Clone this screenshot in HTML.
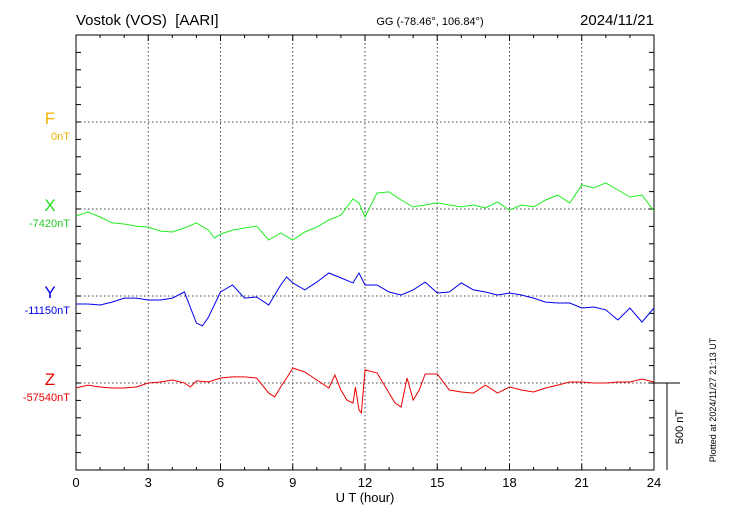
<!DOCTYPE html>
<html><head><meta charset="utf-8"><style>
body{margin:0;background:#fff;}
svg{display:block;font-family:"Liberation Sans",sans-serif;}
</style></head><body>
<svg id="chart" width="730" height="520" viewBox="0 0 730 520" xmlns="http://www.w3.org/2000/svg">
<text x="76" y="25" font-size="15" style="white-space:pre">Vostok (VOS)  [AARI]</text>
<text x="430" y="25" font-size="11" text-anchor="middle">GG (-78.46°, 106.84°)</text>
<text x="654" y="25" font-size="15" text-anchor="end">2024/11/21</text>
<text x="50" y="124" font-size="17" fill="#f0b400" text-anchor="middle">F</text>
<text x="70" y="140" font-size="11" fill="#f0b400" text-anchor="end">0nT</text>
<text x="50" y="211" font-size="17" fill="#22dd22" text-anchor="middle">X</text>
<text x="70" y="227" font-size="11" fill="#22cc22" text-anchor="end">-7420nT</text>
<text x="50" y="298" font-size="17" fill="#0000ee" text-anchor="middle">Y</text>
<text x="70" y="314" font-size="11" fill="#0000ee" text-anchor="end">-11150nT</text>
<text x="50" y="385" font-size="17" fill="#ee0000" text-anchor="middle">Z</text>
<text x="70" y="401" font-size="11" fill="#ee0000" text-anchor="end">-57540nT</text>
<text x="365" y="502" font-size="13" text-anchor="middle">U T (hour)</text>
<text transform="translate(683,427) rotate(-90)" font-size="11" text-anchor="middle">500 nT</text>
<text transform="translate(716,400) rotate(-90)" font-size="9" text-anchor="middle">Plotted at 2024/11/27 21:13 UT</text>
<g id="grid"></g><g id="axes"></g><g id="series"></g>
</svg>
<script>
const xTicks=[0,3,6,9,12,15,18,21,24];
const baselines=[122,209,296,383];
const xHours=[0,0.5,1,1.5,2,2.5,3,3.5,4,4.5,5,5.5,5.75,6,6.5,7,7.5,8,8.5,9,9.5,10,10.5,11,11.5,11.75,12,12.5,13,13.5,14,14.5,15,15.5,16,16.5,17,17.5,18,18.5,19,19.5,20,20.5,21,21.5,22,22.5,23,23.5,24];
const xValues=[-40,-17,-46,-80,-86,-98,-104,-127,-132,-109,-80,-121,-167,-144,-121,-109,-98,-178,-138,-178,-132,-104,-63,-35,58,35,-46,92,98,52,12,23,35,23,12,23,6,40,-6,23,12,52,80,35,138,121,150,109,69,80,-12];
const yHours=[0,0.5,1,1.5,2,2.5,3,3.5,4,4.5,5,5.25,5.5,6,6.5,7,7.5,8,8.5,8.75,9,9.5,10,10.5,11,11.5,11.75,12,12.5,13,13.5,14,14.5,15,15.5,16,16.5,17,17.5,18,18.5,19,19.5,20,20.5,21,21.5,22,22.5,23,23.5,24];
const yValues=[-46,-46,-52,-35,-12,-12,-23,-23,-12,23,-155,-172,-121,23,63,-12,-6,-52,63,109,75,35,80,132,104,75,132,63,63,23,6,35,80,17,23,75,35,23,6,17,6,-12,-35,-40,-40,-69,-63,-80,-138,-69,-150,-69];
const zHours=[0,0.5,1,1.5,2,2.5,3,3.5,4,4.5,4.75,5,5.5,6,6.5,7,7.5,8,8.25,8.5,8.75,9,9.5,10,10.5,10.75,11,11.25,11.5,11.6,11.75,11.85,12,12.5,13,13.25,13.5,13.75,14,14.25,14.5,15,15.5,16,16.5,17,17.5,18,18.5,19,19.5,20,20.5,21,21.5,22,22.5,23,23.5,24];
const zValues=[-29,-12,-23,-29,-29,-23,0,6,17,0,-23,12,6,29,35,35,29,-58,-80,-23,29,86,63,17,-29,46,-40,-98,-115,-23,-155,-172,75,58,-58,-115,-138,29,-98,-40,52,52,-40,-52,-58,-12,-58,-23,-40,-52,-29,-12,6,6,0,0,6,6,23,6];
const NS="http://www.w3.org/2000/svg";
const X0=76,X1=654,Y0=35,Y1=470,PXNT=87/500;
const sx=h=>X0+(X1-X0)*h/24;
function mk(tag,attrs,parent){const e=document.createElementNS(NS,tag);for(const k in attrs)e.setAttribute(k,attrs[k]);parent.appendChild(e);return e;}
const grid=document.getElementById('grid'),axes=document.getElementById('axes'),ser=document.getElementById('series');
xTicks.forEach(h=>{
 if(h>0&&h<24){const l=mk('line',{x1:sx(h),x2:sx(h),y1:Y0,y2:Y1,stroke:'#444','stroke-dasharray':'1.5,2.5'},grid);
 
 }
 const t=mk('text',{x:sx(h),y:487,'font-size':13,'text-anchor':'middle'},axes);t.textContent=h;
 
 
});
baselines.forEach(b=>{const l=mk('line',{x1:X0,x2:X1,y1:b,y2:b,stroke:'#444','stroke-dasharray':'1.5,2.5'},grid);
 
 });
const frame=mk('rect',{x:X0,y:Y0,width:X1-X0,height:Y1-Y0,fill:'none',stroke:'#000'},axes);


for(let y=Y0;y<=Y1+0.5;y+=17.4){mk('line',{x1:X0,x2:X0+5,y1:y,y2:y,stroke:'#000'},axes);mk('line',{x1:X1-5,x2:X1,y1:y,y2:y,stroke:'#000'},axes);}
for(let h=0;h<=24;h++){const len=h%3===0?6:3;mk('line',{x1:sx(h),x2:sx(h),y1:Y1,y2:Y1-len,stroke:'#000'},axes);mk('line',{x1:sx(h),x2:sx(h),y1:Y0,y2:Y0+len,stroke:'#000'},axes);}
const sb=mk('path',{d:'M654 383H680M667 383V470',stroke:'#000',fill:'none'},axes);


function line(hs,vs,base,color,name){
 const d=hs.map((h,i)=>(i?'L':'M')+sx(h).toFixed(1)+' '+(base-vs[i]*PXNT).toFixed(1)).join('');
 const p=mk('path',{d:d,stroke:color,fill:'none','stroke-width':1},ser);
 
 
}
line(xHours,xValues,209,'#22ee22','series-x');
line(yHours,yValues,296,'#0000ee','series-y');
line(zHours,zValues,383,'#ee0000','series-z');
</script>
</body></html>
